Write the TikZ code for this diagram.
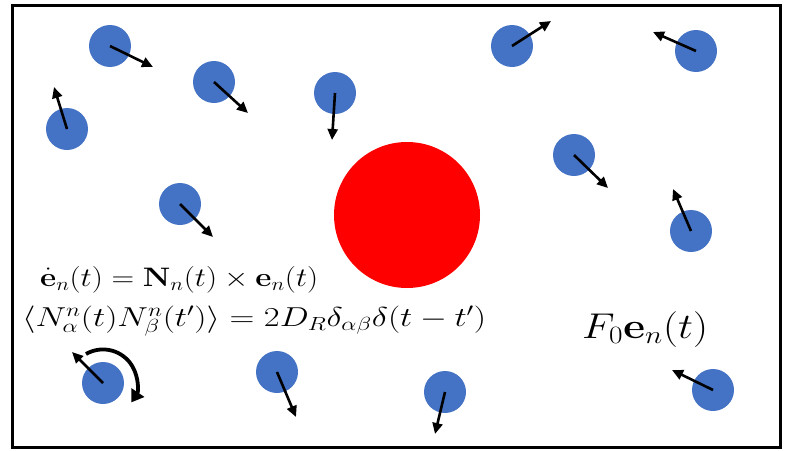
\documentclass[tikz,border=0pt]{standalone}
\usetikzlibrary{arrows.meta,calc}
\definecolor{ballblue}{HTML}{4472C4}
\begin{document}
\begin{tikzpicture}[x=1pt,y=-1pt,
  ball/.style={circle,fill=ballblue,minimum size=42pt,inner sep=0pt},
  dirarrow/.style={line width=2.6pt,-{Triangle[length=11pt,width=10pt]}},
  eq/.style={inner sep=0pt,anchor=base west,font=\fontsize{27}{32}\selectfont}]
\useasboundingbox (0,0) rectangle (787,450);
\draw[line width=3pt] (12,5) rectangle (780,447);
\node[circle,fill=red,minimum size=146pt,inner sep=0pt] (red) at (407,215) {};
% balls
\node[ball] (b1) at (110,46) {};
\node[ball] (b2) at (214,82) {};
\node[ball] (b3) at (335,93) {};
\node[ball] (b4) at (67,129) {};
\node[ball] (b5) at (180,204) {};
\node[ball] (b6) at (512,46) {};
\node[ball] (b7) at (696,51) {};
\node[ball] (b8) at (574,155) {};
\node[ball] (b9) at (691,231) {};
\node[ball] (b10) at (103,383) {};
\node[ball] (b11) at (277,372) {};
\node[ball] (b12) at (445,392) {};
\node[ball] (b13) at (713,390) {};
% arrow tips
\coordinate (t1) at (153,67);
\coordinate (t2) at (248,113);
\coordinate (t3) at (332,140);
\coordinate (t4) at (54,87);
\coordinate (t5) at (213,237);
\coordinate (t6) at (551,21);
\coordinate (t7) at (653,32);
\coordinate (t8) at (608,188);
\coordinate (t9) at (673,189);
\coordinate (t10) at (72,352);
\coordinate (t11) at (296,417);
\coordinate (t12) at (435,434);
\coordinate (t13) at (672,370);
\foreach \i in {1,...,13} \draw[dirarrow] (b\i.center) -- (t\i);
% rotation arrow
\draw[line width=3.8pt,-{Triangle[length=12pt,width=15pt]}]
  ($(b10.center)+(-17,-29)$) arc[start angle=-120,end angle=34,radius=34];
% equations
\node[eq] (eq1) at (40,286) {\scalebox{1.26}[1.074]{$\dot{\mathbf{e}}_n(t)=\mathbf{N}_n(t)\times\mathbf{e}_n(t)$}};
\node[eq] (eq2) at (22,326) {\scalebox{1.385}[1.10]{$\langle N^n_\alpha(t)N^n_\beta(t')\rangle=2D_R\delta_{\alpha\beta}\delta(t-t')$}};
\node[eq] (eq3) at (582,338) {\scalebox{1.70}[1.44]{$F_0\mathbf{e}_n(t)$}};
\end{tikzpicture}
\end{document}
